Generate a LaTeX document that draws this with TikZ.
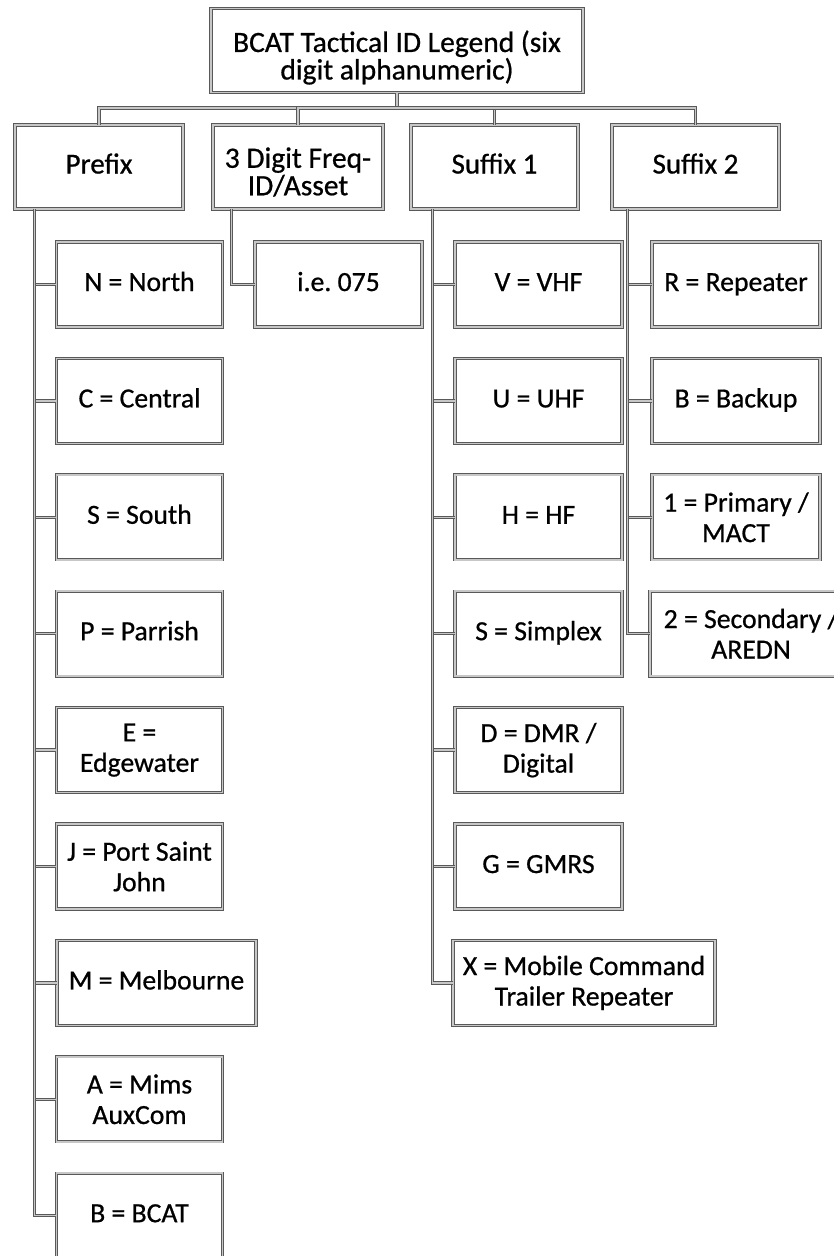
\documentclass[tikz,border=0pt]{standalone}
\usepackage{fontspec}
\setmainfont{Carlito}[FakeBold=0.7]
\usetikzlibrary{calc}
\frenchspacing
\tikzset{
  boxline/.style={draw=black!65, line width=0.9pt, double=black!22, double distance=1.5pt},
  box/.style={boxline, fill=white, align=center, inner sep=2pt, minimum height=85pt},
  topbox/.style={box, font=\fontsize{29}{27}\selectfont},
  toptext/.style={align=center, inner sep=0pt, font=\fontsize{29.5}{27.5}\selectfont},
  kid/.style={box, font=\fontsize{27.7}{30.5}\selectfont, minimum width=166pt},
  one/.style={text height=19pt, text depth=6pt},
  conn/.style={boxline}
}
\begin{document}
\begin{tikzpicture}[x=1pt,y=-1pt]
\useasboundingbox (0,0) rectangle (834,1256);
\clip (0,0) rectangle (834,1256);
\fill[white] (0,0) rectangle (834,1256);
% root and level 1
\node[box, minimum width=372pt, minimum height=84pt] (root) at (397,50.5) {};
\node[toptext] (rootT) at ($(root.center)+(0,7)$) {BCAT Tactical ID Legend (six\\digit alphanumeric)};
\node[topbox, one, minimum width=168pt, minimum height=84pt] (pre) at (99,167) {Prefix};
\node[box, minimum width=170pt, minimum height=84pt] (frq) at (298,167) {};
\node[toptext] (frqT) at ($(frq.center)+(0,5)$) {3 Digit Freq-\\ID/Asset};
\node[topbox, one, minimum width=167pt, minimum height=84pt] (sf1) at (494.5,167) {Suffix 1};
\node[topbox, one, minimum width=167pt, minimum height=84pt] (sf2) at (695.5,167) {Suffix 2};
\coordinate (bus) at (397,108);
\draw[conn] (root.south) -- (bus);
\draw[conn] (bus) -| (pre.north);
\draw[conn] (bus) -| (frq.north);
\draw[conn] (bus) -| (sf1.north);
\draw[conn] (bus) -| (sf2.north);
% prefix children
\node[kid, one] (p1) at (139.5,284.5) {N = North};
\node[kid, one] (p2) at (139.5,400.9) {C = Central};
\node[kid, one] (p3) at (139.5,517.3) {S = South};
\node[kid, one] (p4) at (139.5,633.7) {P = Parrish};
\node[kid] (p5) at (139.5,750.1) {E =\\Edgewater};
\node[kid] (p6) at (139.5,866.5) {J = Port Saint\\John};
\node[kid, one, minimum width=199pt] (p7) at (156.5,982.9) {M = Melbourne};
\node[kid] (p8) at (139.5,1099.3) {A = Mims\\AuxCom};
\node[kid, one] (p9) at (139.5,1215.7) {B = BCAT};
\foreach \c in {p1,p2,p3,p4,p5,p6,p7,p8,p9}
  \draw[conn] ($(pre.south west)+(20,0)$) |- (\c.west);
% freq child
\node[kid, one, minimum width=167pt] (f1) at (338.5,284.5) {i.e. 075};
\draw[conn] ($(frq.south west)+(19,0)$) |- (f1.west);
% suffix 1 children
\node[kid, one, minimum width=167pt] (s1) at (538.5,284.5) {V = VHF};
\node[kid, one, minimum width=167pt] (s2) at (538.5,400.9) {U = UHF};
\node[kid, one, minimum width=167pt] (s3) at (538.5,517.3) {H = HF};
\node[kid, one, minimum width=167pt] (s4) at (538.5,633.7) {S = Simplex};
\node[kid, minimum width=167pt] (s5) at (538.5,750.1) {D = DMR /\\Digital};
\node[kid, one, minimum width=167pt] (s6) at (538.5,866.5) {G = GMRS};
\node[kid, minimum width=262pt] (s7) at (584,982.9) {X = Mobile Command\\Trailer Repeater};
\foreach \c in {s1,s2,s3,s4,s5,s6,s7}
  \draw[conn] ($(sf1.south west)+(22,0)$) |- (\c.west);
% suffix 2 children
\node[kid, one, minimum width=168pt] (t1) at (736,284.5) {R = Repeater};
\node[kid, one, minimum width=168pt] (t2) at (736,400.9) {B = Backup};
\node[kid, minimum width=168pt] (t3) at (736,517.3) {1 = Primary /\\MACT};
\node[kid, minimum width=202pt] (t4) at (751,633.7) {2 = Secondary /\\AREDN};
\foreach \c in {t1,t2,t3,t4}
  \draw[conn] ($(sf2.south west)+(16,0)$) |- (\c.west);
\end{tikzpicture}
\end{document}
